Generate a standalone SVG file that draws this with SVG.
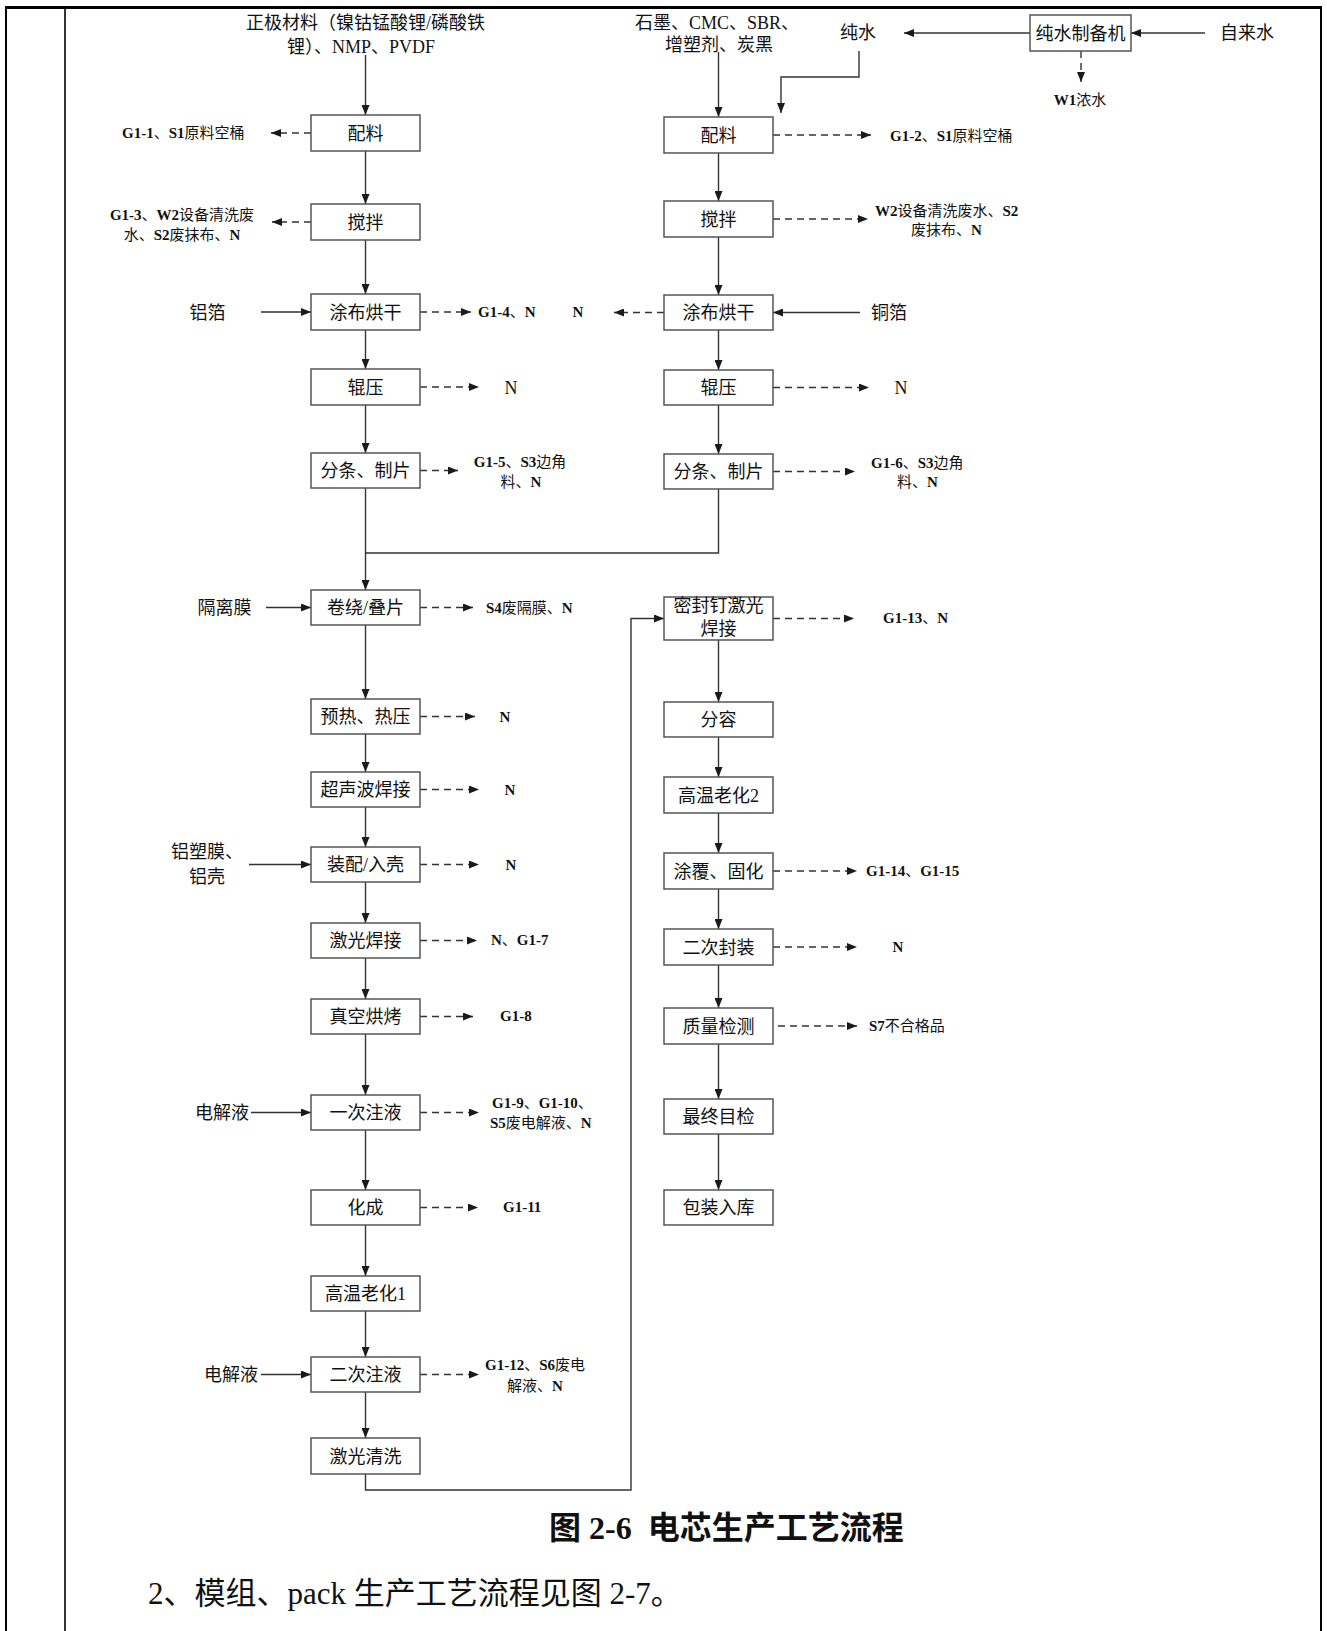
<svg xmlns="http://www.w3.org/2000/svg" width="1327" height="1631" viewBox="0 0 1327 1631">
<defs>
<marker id="ah" markerUnits="userSpaceOnUse" markerWidth="10" markerHeight="8" refX="10" refY="4" orient="auto">
<path d="M0,0 L10,4 L0,8 z" fill="#1a1a1a"/>
</marker>
<style>
.t{font-family:"Liberation Serif","Noto Sans CJK SC",serif;fill:#111;}
.bx{font-size:18px;text-anchor:middle;}
.lg{font-size:18px;}
.sm{font-size:15px;}
.b{font-weight:bold;}
.c{text-anchor:middle;}
rect.n{fill:#fff;stroke:#555;stroke-width:1.5;}
.s{fill:none;stroke:#333;stroke-width:1.4;marker-end:url(#ah);}
.p{fill:none;stroke:#333;stroke-width:1.4;}
.d{fill:none;stroke:#333;stroke-width:1.4;stroke-dasharray:7 5;marker-end:url(#ah);}
</style>
</defs>
<rect width="1327" height="1631" fill="#fff"/>
<g id="frame" fill="none" stroke="#000">
<path d="M6,1631 V7 H1321 V1631" stroke-width="2"/>
<line x1="6" y1="7.5" x2="1321" y2="7.5" stroke-width="3"/>
<line x1="65" y1="7" x2="65" y2="1631" stroke-width="1.6"/>
</g>

<g id="connectors">
<path class="s" d="M365.5,55 V115"/>
<path class="s" d="M718.5,52 V117"/>
<path class="s" d="M1205,33 H1131"/>
<path class="s" d="M1030,33 H904"/>
<path class="s" d="M859,51 V77 H781 V113"/>
<path class="d" d="M1081,51 V82"/>
<path class="s" d="M365.5,151 V204"/>
<path class="s" d="M365.5,240 V294"/>
<path class="s" d="M365.5,330 V369"/>
<path class="s" d="M365.5,405 V453"/>
<path class="s" d="M365.5,488 V590"/>
<path class="p" d="M718.5,489 V553 H365.5"/>
<path class="s" d="M365.5,625 V699"/>
<path class="s" d="M365.5,734 V772"/>
<path class="s" d="M365.5,807 V847"/>
<path class="s" d="M365.5,882 V923"/>
<path class="s" d="M365.5,958 V999"/>
<path class="s" d="M365.5,1034 V1095"/>
<path class="s" d="M365.5,1130 V1190"/>
<path class="s" d="M365.5,1225 V1276"/>
<path class="s" d="M365.5,1311 V1357"/>
<path class="s" d="M365.5,1392 V1438"/>
<path class="s" d="M365.5,1474 V1490 H631 V618.5 H664"/>
<path class="s" d="M718.5,153 V201"/>
<path class="s" d="M718.5,237 V295"/>
<path class="s" d="M718.5,330 V370"/>
<path class="s" d="M718.5,405 V454"/>
<path class="s" d="M718.5,640 V702"/>
<path class="s" d="M718.5,737 V777"/>
<path class="s" d="M718.5,813 V853"/>
<path class="s" d="M718.5,889 V929"/>
<path class="s" d="M718.5,965 V1008"/>
<path class="s" d="M718.5,1044 V1099"/>
<path class="s" d="M718.5,1134 V1190"/>
<path class="s" d="M261,312 H311"/>
<path class="s" d="M860,312.5 H773"/>
<path class="s" d="M266,607.5 H311"/>
<path class="s" d="M249,864.5 H311"/>
<path class="s" d="M251,1112.5 H311"/>
<path class="s" d="M261,1374.5 H311"/>
<path class="d" d="M311,133 H271"/>
<path class="d" d="M311,222 H272"/>
<path class="d" d="M420,312 H471"/>
<path class="d" d="M420,387 H479"/>
<path class="d" d="M420,470.5 H458"/>
<path class="d" d="M420,607.5 H473"/>
<path class="d" d="M420,716.5 H475"/>
<path class="d" d="M420,789.5 H479"/>
<path class="d" d="M420,864.5 H479"/>
<path class="d" d="M420,940.5 H477"/>
<path class="d" d="M420,1016.5 H473"/>
<path class="d" d="M420,1112.5 H479"/>
<path class="d" d="M420,1207.5 H478"/>
<path class="d" d="M420,1374.5 H479"/>
<path class="d" d="M664,312.5 H614"/>
<path class="d" d="M773,135 H871"/>
<path class="d" d="M773,219 H868"/>
<path class="d" d="M773,387.5 H869"/>
<path class="d" d="M773,471.5 H855"/>
<path class="d" d="M773,618.5 H854"/>
<path class="d" d="M773,871 H857"/>
<path class="d" d="M773,947 H857"/>
<path class="d" d="M778,1026 H857"/>
</g>

<g id="L1"><rect class="n" x="311" y="115" width="109" height="36"/><text class="t bx" x="365.5" y="139.5">配料</text></g>
<g id="L2"><rect class="n" x="311" y="204" width="109" height="36"/><text class="t bx" x="365.5" y="228.5">搅拌</text></g>
<g id="L3"><rect class="n" x="311" y="294" width="109" height="36"/><text class="t bx" x="365.5" y="318.5">涂布烘干</text></g>
<g id="L4"><rect class="n" x="311" y="369" width="109" height="36"/><text class="t bx" x="365.5" y="393.5">辊压</text></g>
<g id="L5"><rect class="n" x="311" y="453" width="109" height="35"/><text class="t bx" x="365.5" y="477">分条、制片</text></g>
<g id="L6"><rect class="n" x="311" y="590" width="109" height="35"/><text class="t bx" x="365.5" y="614">卷绕/叠片</text></g>
<g id="L7"><rect class="n" x="311" y="699" width="109" height="35"/><text class="t bx" x="365.5" y="723">预热、热压</text></g>
<g id="L8"><rect class="n" x="311" y="772" width="109" height="35"/><text class="t bx" x="365.5" y="796">超声波焊接</text></g>
<g id="L9"><rect class="n" x="311" y="847" width="109" height="35"/><text class="t bx" x="365.5" y="871">装配/入壳</text></g>
<g id="L10"><rect class="n" x="311" y="923" width="109" height="35"/><text class="t bx" x="365.5" y="947">激光焊接</text></g>
<g id="L11"><rect class="n" x="311" y="999" width="109" height="35"/><text class="t bx" x="365.5" y="1023">真空烘烤</text></g>
<g id="L12"><rect class="n" x="311" y="1095" width="109" height="35"/><text class="t bx" x="365.5" y="1119">一次注液</text></g>
<g id="L13"><rect class="n" x="311" y="1190" width="109" height="35"/><text class="t bx" x="365.5" y="1214">化成</text></g>
<g id="L14"><rect class="n" x="311" y="1276" width="109" height="35"/><text class="t bx" x="365.5" y="1300">高温老化1</text></g>
<g id="L15"><rect class="n" x="311" y="1357" width="109" height="35"/><text class="t bx" x="365.5" y="1381">二次注液</text></g>
<g id="L16"><rect class="n" x="311" y="1438" width="109" height="36"/><text class="t bx" x="365.5" y="1462.5">激光清洗</text></g>

<g id="R1"><rect class="n" x="664" y="117" width="109" height="36"/><text class="t bx" x="718.5" y="141.5">配料</text></g>
<g id="R2"><rect class="n" x="664" y="201" width="109" height="36"/><text class="t bx" x="718.5" y="225.5">搅拌</text></g>
<g id="R3"><rect class="n" x="664" y="295" width="109" height="35"/><text class="t bx" x="718.5" y="319">涂布烘干</text></g>
<g id="R4"><rect class="n" x="664" y="370" width="109" height="35"/><text class="t bx" x="718.5" y="394">辊压</text></g>
<g id="R5"><rect class="n" x="664" y="454" width="109" height="35"/><text class="t bx" x="718.5" y="478">分条、制片</text></g>
<g id="R6"><rect class="n" x="664" y="597" width="109" height="43"/><text class="t bx" x="718.5" y="612">密封钉激光</text><text class="t bx" x="718.5" y="634.5">焊接</text></g>
<g id="R7"><rect class="n" x="664" y="702" width="109" height="35"/><text class="t bx" x="718.5" y="726">分容</text></g>
<g id="R8"><rect class="n" x="664" y="777" width="109" height="36"/><text class="t bx" x="718.5" y="801.5">高温老化2</text></g>
<g id="R9"><rect class="n" x="664" y="853" width="109" height="36"/><text class="t bx" x="718.5" y="877.5">涂覆、固化</text></g>
<g id="R10"><rect class="n" x="664" y="929" width="109" height="36"/><text class="t bx" x="718.5" y="953.5">二次封装</text></g>
<g id="R11"><rect class="n" x="664" y="1008" width="109" height="36"/><text class="t bx" x="718.5" y="1032.5">质量检测</text></g>
<g id="R12"><rect class="n" x="664" y="1099" width="109" height="35"/><text class="t bx" x="718.5" y="1123">最终目检</text></g>
<g id="R13"><rect class="n" x="664" y="1190" width="109" height="35"/><text class="t bx" x="718.5" y="1214">包装入库</text></g>
<g id="W"><rect class="n" x="1030" y="15" width="101" height="36"/><text class="t bx" x="1080.5" y="39.5">纯水制备机</text></g>

<g id="inputs">
<text class="t lg" x="246" y="29">正极材料（镍钴锰酸锂/磷酸铁</text>
<text class="t lg" x="287" y="53">锂）、NMP、PVDF</text>
<text class="t lg" x="635" y="29">石墨、CMC、SBR、</text>
<text class="t lg" x="665" y="51">增塑剂、炭黑</text>
<text class="t lg" x="840" y="39">纯水</text>
<text class="t lg" x="1220" y="39">自来水</text>
<text class="t lg c" x="207.5" y="318.5">铝箔</text>
<text class="t lg" x="871" y="319">铜箔</text>
<text class="t lg c" x="224.5" y="614">隔离膜</text>
<text class="t lg" x="171" y="858">铝塑膜、</text>
<text class="t lg" x="189" y="883">铝壳</text>
<text class="t lg" x="195" y="1118.5">电解液</text>
<text class="t lg" x="204" y="1381">电解液</text>
</g>

<g id="outputs">
<text class="t sm c" x="1080" y="105"><tspan class="b">W1</tspan>浓水</text>
<text class="t sm" x="122" y="138"><tspan class="b">G1-1</tspan>、<tspan class="b">S1</tspan>原料空桶</text>
<text class="t sm c" x="182" y="220"><tspan class="b">G1-3</tspan>、<tspan class="b">W2</tspan>设备清洗废</text>
<text class="t sm c" x="182" y="240">水、<tspan class="b">S2</tspan>废抹布、<tspan class="b">N</tspan></text>
<text class="t sm" x="478" y="317"><tspan class="b">G1-4</tspan>、<tspan class="b">N</tspan></text>
<text class="t sm c b" x="578" y="317">N</text>
<text class="t lg c" x="511" y="393.5">N</text>
<text class="t sm c" x="520" y="467"><tspan class="b">G1-5</tspan>、<tspan class="b">S3</tspan>边角</text>
<text class="t sm c" x="521" y="487">料、<tspan class="b">N</tspan></text>
<text class="t sm" x="486" y="613"><tspan class="b">S4</tspan>废隔膜、<tspan class="b">N</tspan></text>
<text class="t sm c b" x="505" y="722">N</text>
<text class="t sm c b" x="510" y="795">N</text>
<text class="t sm c b" x="511" y="870">N</text>
<text class="t sm" x="491" y="945"><tspan class="b">N</tspan>、<tspan class="b">G1-7</tspan></text>
<text class="t sm b" x="500" y="1021">G1-8</text>
<text class="t sm" x="492" y="1108"><tspan class="b">G1-9</tspan>、<tspan class="b">G1-10</tspan>、</text>
<text class="t sm" x="490" y="1128"><tspan class="b">S5</tspan>废电解液、<tspan class="b">N</tspan></text>
<text class="t sm b" x="503" y="1212">G1-11</text>
<text class="t sm" x="485" y="1370"><tspan class="b">G1-12</tspan>、<tspan class="b">S6</tspan>废电</text>
<text class="t sm" x="507" y="1391">解液、<tspan class="b">N</tspan></text>
<text class="t sm" x="890" y="141"><tspan class="b">G1-2</tspan>、<tspan class="b">S1</tspan>原料空桶</text>
<text class="t sm" x="875" y="216"><tspan class="b">W2</tspan>设备清洗废水、<tspan class="b">S2</tspan></text>
<text class="t sm" x="911" y="235">废抹布、<tspan class="b">N</tspan></text>
<text class="t lg c" x="901" y="394">N</text>
<text class="t sm" x="871" y="468"><tspan class="b">G1-6</tspan>、<tspan class="b">S3</tspan>边角</text>
<text class="t sm" x="897" y="487">料、<tspan class="b">N</tspan></text>
<text class="t sm" x="883" y="623"><tspan class="b">G1-13</tspan>、<tspan class="b">N</tspan></text>
<text class="t sm" x="866" y="876"><tspan class="b">G1-14</tspan>、<tspan class="b">G1-15</tspan></text>
<text class="t sm c b" x="898" y="952">N</text>
<text class="t sm" x="869" y="1031"><tspan class="b">S7</tspan>不合格品</text>
</g>

<g id="caption">
<text class="t" x="549" y="1539" font-size="32" font-weight="bold" xml:space="preserve">图 2-6  电芯生产工艺流程</text>
<text class="t" x="148" y="1604" font-size="31">2、模组、pack 生产工艺流程见图 2-7。</text>
</g>
</svg>
